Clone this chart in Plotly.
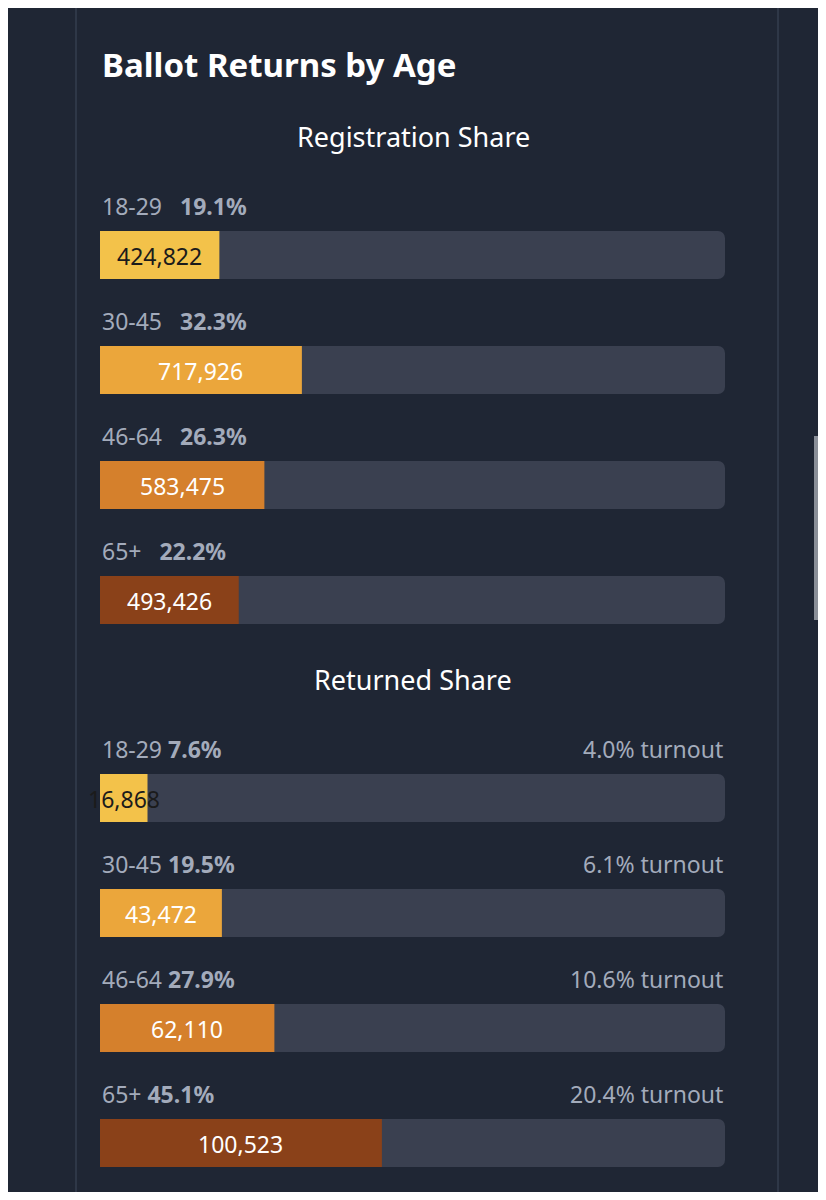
import plotly.graph_objects as go

groups = ["18-29", "30-45", "46-64", "65+"]
colors = ["#f3c24a", "#eba63b", "#d5802c", "#8a4119"]
text_colors = ["#1b1b1b", "#ffffff", "#ffffff", "#ffffff"]

reg_share = [19.1, 32.3, 26.3, 22.2]
reg_count = ["424,822", "717,926", "583,475", "493,426"]

ret_share = [7.6, 19.5, 27.9, 45.1]
ret_count = ["16,868", "43,472", "62,110", "100,523"]
turnout = ["4.0% turnout", "6.1% turnout", "10.6% turnout", "20.4% turnout"]

PAGE_W, PAGE_H = 826, 1200
OFF = 8  # browser body margin
W, H = PAGE_W - 2 * OFF, PAGE_H - 2 * OFF
X0, X1 = 100, 725
BG = "#1f2634"
TRACK = "#3a4050"
LABEL = "#a3abbb"

reg_y = [255, 370, 485, 600]
ret_y = [798, 913, 1028, 1143]

span = X1 - X0
xr = [(OFF - X0) / span, (OFF + W - X0) / span]

fig = go.Figure()
ann = []


def section(shares, counts, ys, sep, right=None):
    fig.add_trace(go.Bar(x=[1] * 4, y=ys, orientation="h", width=48,
                         marker=dict(color=TRACK, line_width=0), hoverinfo="skip"))
    fig.add_trace(go.Bar(x=[s / 100 for s in shares], y=ys, orientation="h", width=48,
                         marker=dict(color=colors, line_width=0), hoverinfo="skip"))
    for i, (s, c, y) in enumerate(zip(shares, counts, ys)):
        ann.append(dict(x=s / 200, y=y + 1, text=c, showarrow=False,
                        font=dict(size=23, color=text_colors[i])))
        ann.append(dict(x=0, y=y - 49, xanchor="left", showarrow=False,
                        text=f"{groups[i]}{sep}<b>{s}%</b>",
                        font=dict(size=23, color=LABEL)))
        if right:
            ann.append(dict(x=1, y=y - 49, xanchor="right", showarrow=False,
                            text=right[i], font=dict(size=23, color=LABEL)))


section(reg_share, reg_count, reg_y, "&nbsp;&nbsp;&nbsp;")
section(ret_share, ret_count, ret_y, "&nbsp;", turnout)

ann.append(dict(x=0, y=64, xanchor="left", showarrow=False, text="<b>Ballot Returns by Age</b>",
                font=dict(size=33, color="#ffffff")))
for t, y in [("Registration Share", 136), ("Returned Share", 679)]:
    ann.append(dict(x=(413 - X0) / span, y=y, showarrow=False, text=t,
                    font=dict(size=27, color="#ffffff")))

shapes = [dict(type="line", xref="paper", yref="paper", x0=(x - OFF) / W, x1=(x - OFF) / W,
               y0=-0.01, y1=1.01, line=dict(color="#2e3747", width=2)) for x in (76, 778)]
shapes.append(dict(type="line", xref="paper", yref="paper", x0=(816 - OFF) / W, x1=(816 - OFF) / W,
                   y0=1 - (436 - OFF) / H, y1=1 - (620 - OFF) / H,
                   line=dict(color="#8a8f98", width=4)))

fig.update_layout(
    width=W, height=H, margin=dict(l=0, r=0, t=0, b=0),
    paper_bgcolor=BG, plot_bgcolor=BG, barmode="overlay", barcornerradius=7,
    showlegend=False, font=dict(family="Noto Sans"),
    xaxis=dict(range=xr, visible=False, fixedrange=True),
    yaxis=dict(range=[OFF + H, OFF], visible=False, fixedrange=True),
    annotations=ann, shapes=shapes,
)
fig.write_html("out.html")
